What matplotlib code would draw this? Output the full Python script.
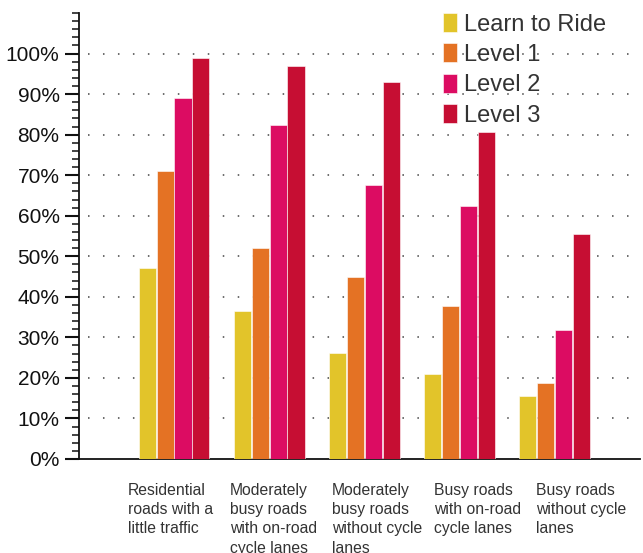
import matplotlib
matplotlib.use("Agg")
import matplotlib.pyplot as plt
import numpy as np
from matplotlib.ticker import MultipleLocator, FuncFormatter
import matplotlib.transforms as mtransforms

categories = [
    "Residential\nroads with a\nlittle traffic",
    "Moderately\nbusy roads\nwith on-road\ncycle lanes",
    "Moderately\nbusy roads\nwithout cycle\nlanes",
    "Busy roads\nwith on-road\ncycle lanes",
    "Busy roads\nwithout cycle\nlanes",
]
series_names = ["Learn to Ride", "Level 1", "Level 2", "Level 3"]
learn_to_ride = [47.1, 36.5, 26.1, 20.9, 15.5]
level_1 = [71.1, 52.1, 44.9, 37.8, 18.7]
level_2 = [89.1, 82.5, 67.7, 62.5, 31.8]
level_3 = [98.8, 96.9, 93.1, 80.6, 55.6]
yticks = [0, 10, 20, 30, 40, 50, 60, 70, 80, 90, 100]

colors = ["#E2C42A", "#E47224", "#DC0C62", "#C60E33"]
series = [learn_to_ride, level_1, level_2, level_3]

plt.rcParams['font.family'] = ['Liberation Sans', 'DejaVu Sans']

fig = plt.figure(figsize=(6.43, 5.53), dpi=100)
ax = fig.add_axes([79/643, 1-459/553, (640-79)/643, (459-13)/553])

x = np.arange(1, len(categories)+1)
step = 0.188
width = 0.18
for k, (vals, c, name) in enumerate(zip(series, colors, series_names)):
    ax.bar(x + (k-1.5)*step, vals, width=width, color=c, edgecolor='white',
           linewidth=0.4, label=name, zorder=3)

ax.set_xlim(0, 5.9)
ax.set_ylim(0, 110)

# dotted gridlines
for v in yticks[1:]:
    ax.plot([0.09, 5.9], [v, v], color='#444444', linewidth=1.1,
            linestyle=(0, (1, 8.8)), zorder=1, solid_capstyle='butt')

ax.set_yticks(yticks)
ax.yaxis.set_major_formatter(FuncFormatter(lambda v, p: f"{int(v)}%"))
ax.yaxis.set_minor_locator(MultipleLocator(2))
ax.tick_params(axis='y', which='major', length=10, width=1.5, pad=4,
               labelsize=15, labelcolor='#111111', color='#111111')
ax.tick_params(axis='y', which='minor', length=5, width=1.1, color='#111111')
ax.set_xticks([])

for s in ['top', 'right']:
    ax.spines[s].set_visible(False)
ax.spines['left'].set_linewidth(1.3)
ax.spines['bottom'].set_linewidth(1.3)
ax.spines['left'].set_color('#111111')
ax.spines['bottom'].set_color('#111111')

# category labels
trans = mtransforms.blended_transform_factory(ax.transData, fig.transFigure)
for i, lab in enumerate(categories):
    ax.text(0.512 + 1.073*i, 1-483/553, lab, transform=trans, ha='left', va='top',
            fontsize=11.3, color='#333333', linespacing=1.35)

leg = ax.legend(loc='upper left', bbox_to_anchor=(443/643, 1-13/553),
                bbox_transform=fig.transFigure, frameon=False,
                fontsize=17, handlelength=0.6, handleheight=0.85,
                handletextpad=0.3, labelspacing=0.33, borderpad=0,
                borderaxespad=0)
for t in leg.get_texts():
    t.set_color('#333333')

fig.savefig("out.png", dpi=100)
